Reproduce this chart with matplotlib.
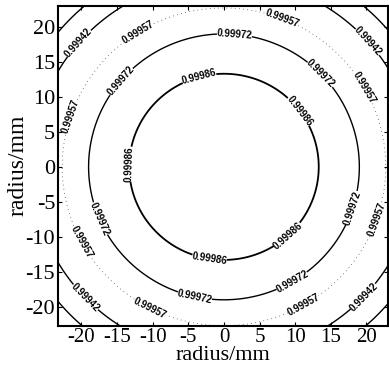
import matplotlib

matplotlib.use("Agg")
import matplotlib.pyplot as plt
import numpy as np

# contour values, with the radius (mm) where each ring sits
level_labels = ["0.99986", "0.99972", "0.99957", "0.99942", "0.99927"]
level_radii = [13.3, 19.0, 22.7, 27.0, 30.2]
axis_ticks = [-20, -15, -10, -5, 0, 5, 10, 15, 20]

# where the inline labels sit (near the ring they belong to)
label_spots = [
    (-3.4, 12.5), (10.0, 7.5), (-13.9, 0.4), (-2.0, -12.8), (9.3, -10.2),
    (1.5, 19.2), (13.5, 13.2), (-14.0, 11.8), (-17.4, -7.4), (-4.0, -18.0),
    (9.3, -15.9), (18.4, -6.0),
    (8.6, 22.4), (-11.8, 18.9), (-22.3, 7.5), (-21.6, -11.6), (-11.0, -21.3),
    (11.4, -20.2), (21.3, -7.5), (20.5, 11.8),
    (-20.2, 17.5), (19.8, 17.5), (-19.5, -18.7), (19.0, -18.0),
]

plt.rcParams["font.family"] = ["Liberation Serif", "DejaVu Serif"]
plt.rcParams["axes.unicode_minus"] = False

fig = plt.figure(figsize=(3.89, 3.68), dpi=100)
ax = fig.add_axes([0.149, 0.115, 0.848, 0.869])

grid = np.linspace(-24, 24, 481)
gx, gy = np.meshgrid(grid, grid)
radius = np.hypot(gx, gy)

cs = ax.contour(
    gx, gy, radius,
    levels=level_radii,
    colors=["black", "black", "#555555", "black", "black"],
    linewidths=[1.3, 1.0, 0.6, 1.0, 1.0],
    linestyles=["solid", "solid", (0, (1, 4)), "solid", "solid"],
)
fmt = dict(zip(level_radii, level_labels))
ax.clabel(cs, levels=level_radii[:4], manual=label_spots, fmt=fmt,
          inline=True, inline_spacing=1, fontsize=7)
for t in cs.labelTexts:
    t.set_family("Liberation Sans")
    t.set_weight("bold")
    t.set_color("black")

ax.set_xlim(-23.3, 23.0)
ax.set_ylim(-22.7, 23.0)
ax.set_xticks(axis_ticks)
ax.set_yticks(axis_ticks)
ax.tick_params(direction="in", top=True, right=True, length=3, labelsize=16, pad=2)
ax.tick_params(axis="x", labelsize=15, pad=2)
for sp in ax.spines.values():
    sp.set_linewidth(1.5)
ax.set_xlabel("radius/mm", fontsize=16, labelpad=-1)
ax.set_ylabel("radius/mm", fontsize=17, labelpad=-2)

fig.savefig("out.png", dpi=100)
